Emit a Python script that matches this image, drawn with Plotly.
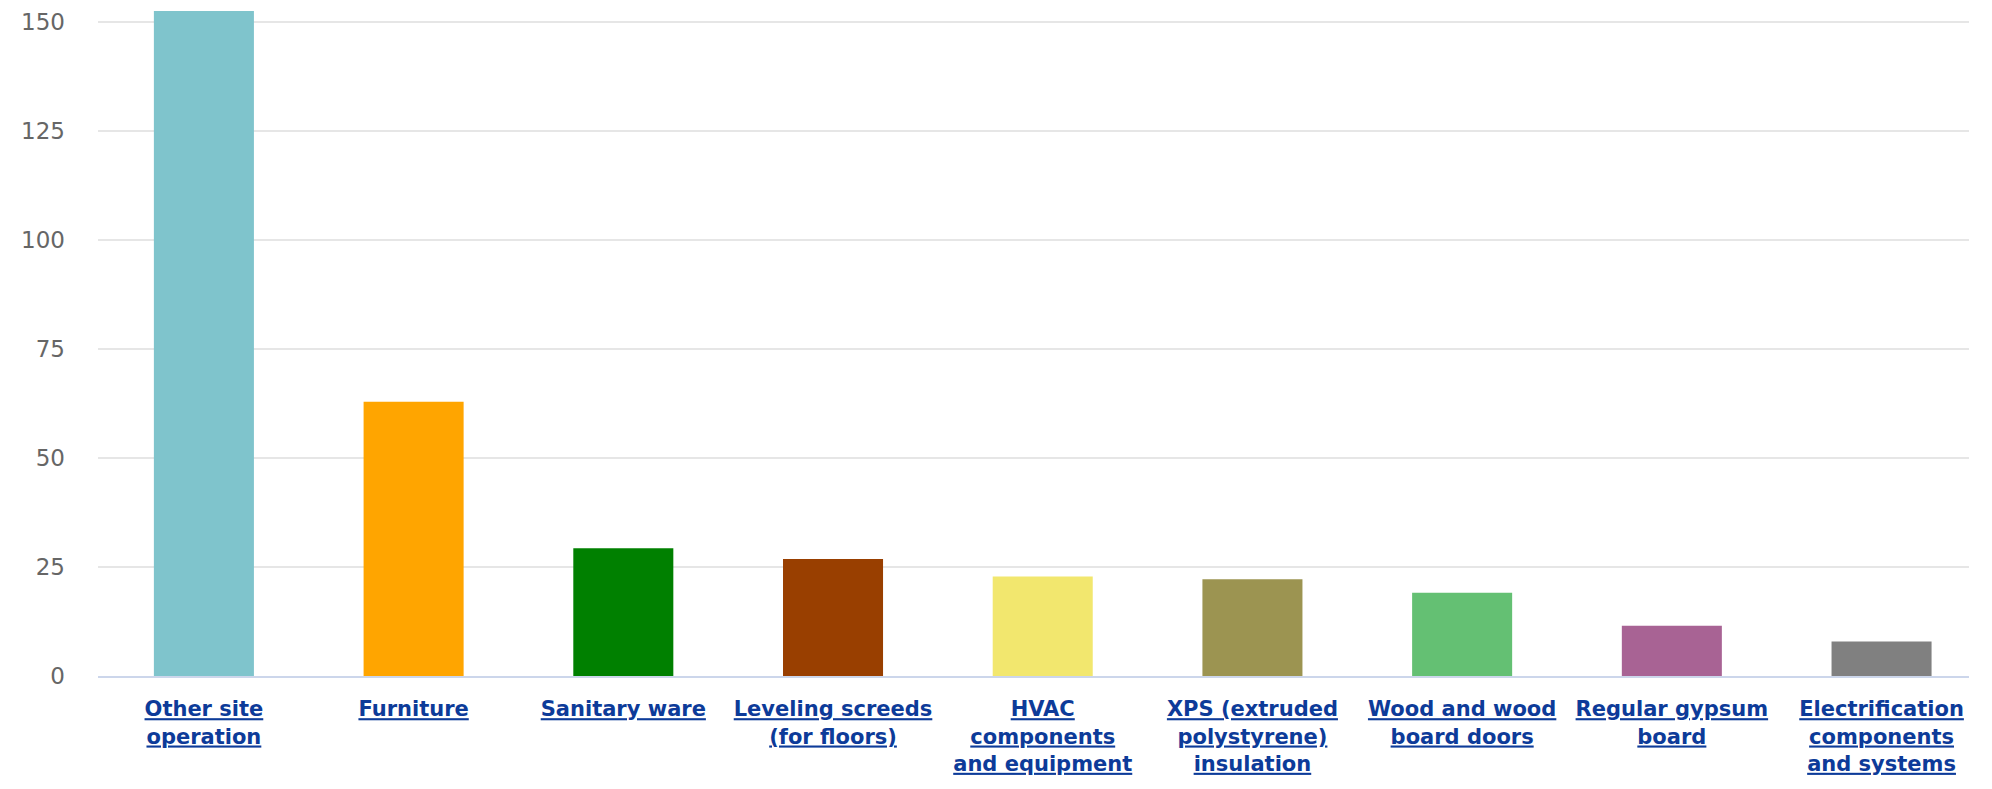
import plotly.graph_objects as go

categories = [
    "Other site<br>operation",
    "Furniture",
    "Sanitary ware",
    "Leveling screeds<br>(for floors)",
    "HVAC<br>components<br>and equipment",
    "XPS (extruded<br>polystyrene)<br>insulation",
    "Wood and wood<br>board doors",
    "Regular gypsum<br>board",
    "Electrification<br>components<br>and systems",
]
values = [152.5, 62.9, 29.3, 26.8, 22.8, 22.2, 19.1, 11.5, 7.9]
colors = ["#7fc4cc", "#ffa500", "#008000", "#993f00", "#f2e76e",
          "#9c9451", "#64c073", "#a86394", "#808080"]
y_ticks = [0, 25, 50, 75, 100, 125, 150]

tick_text = ["<u>" + "</u><br><u>".join(c.split("<br>")) + "</u>" for c in categories]
xs = list(range(len(categories)))

fig = go.Figure(go.Bar(x=xs, y=values, marker=dict(color=colors, line=dict(width=0)),
                       width=0.477, showlegend=False, hoverinfo="skip"))

fig.update_layout(
    width=1992, height=789,
    margin=dict(l=98, r=23, t=0, b=113),
    plot_bgcolor="white", paper_bgcolor="white",
    font=dict(family="DejaVu Sans", size=20),
)
fig.update_xaxes(
    tickmode="array", tickvals=xs, ticktext=tick_text,
    tickfont=dict(family="DejaVu Sans", size=21, color="#0d3b99", weight="bold"),
    showline=True, linecolor="#ccd6eb", linewidth=2,
    showgrid=False, ticks="", range=[-0.505, 8.417], tickangle=0,
    automargin=False, ticklabelstandoff=13,
)
fig.update_yaxes(
    range=[0, 155], tickvals=y_ticks, ticktext=[str(v) for v in y_ticks],
    tickfont=dict(family="DejaVu Sans", size=23, color="#666666"),
    showgrid=True, gridcolor="#e6e6e6", gridwidth=1.5, zeroline=False,
    ticklabelstandoff=32, automargin=False,
)
fig.write_html("out.html", config={"displayModeBar": False},
               post_script="document.body.style.margin='0';document.body.style.overflow='hidden';")
